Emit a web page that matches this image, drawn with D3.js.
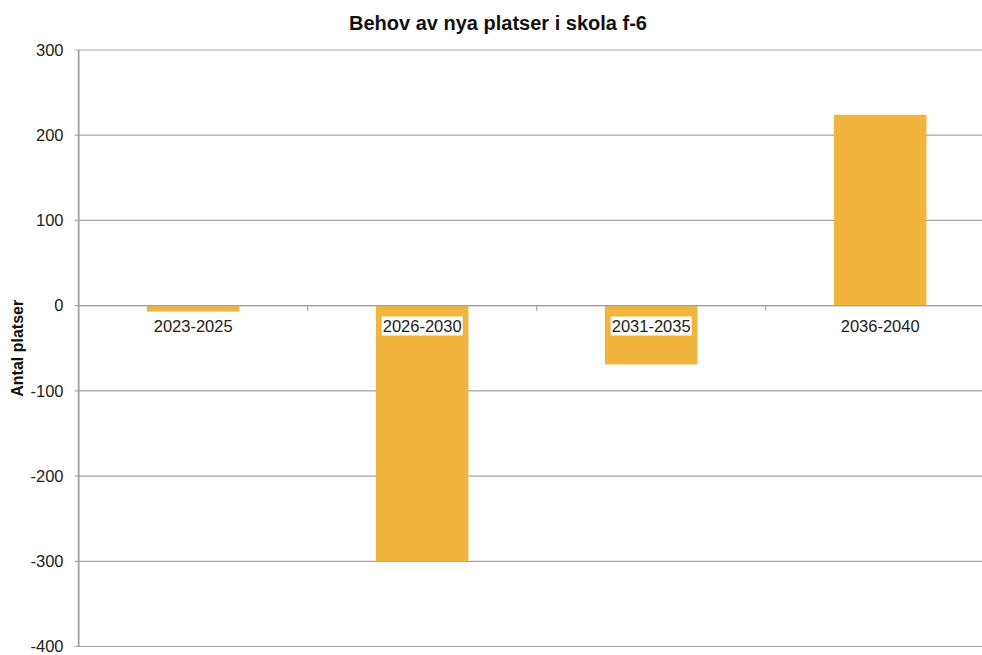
<!DOCTYPE html>
<html><head><meta charset="utf-8">
<script src="https://cdn.jsdelivr.net/npm/d3@7/dist/d3.min.js"></script>
<style>body{margin:0;background:#fff}svg{display:block}</style>
</head><body>
<svg id="c" width="982" height="655"></svg>
<script>
const categories = ["2023-2025","2026-2030","2031-2035","2036-2040"];
const values = [-7, -300, -69, 224];
const yTicks = [300,200,100,0,-100,-200,-300,-400];
const title = "Behov av nya platser i skola f-6";
const yTitle = "Antal platser";

(function() {
const svg = d3.select("#c");
const font = "Liberation Sans, Arial, sans-serif";
const pLeft = 78.7, pRight = 994.7, pTop = 50, pBottom = 646.5;

const x = d3.scaleBand().domain(categories).range([pLeft, pRight]).paddingInner(0.596).paddingOuter(0.298);
const y = d3.scaleLinear().domain([-400, 300]).range([pBottom, pTop]);

// gridlines
svg.append("g").selectAll("line").data(yTicks).join("line")
  .attr("x1", pLeft - 4).attr("x2", 982)
  .attr("y1", d => y(d)).attr("y2", d => y(d))
  .attr("stroke", "#a3a3a3").attr("stroke-width", 1.2);

// y tick labels
svg.append("g").selectAll("text").data(yTicks).join("text")
  .attr("x", 63.5).attr("y", d => y(d)).attr("dy", "0.35em")
  .attr("text-anchor", "end").attr("font-family", font).attr("font-size", 16.5)
  .attr("fill", "#222").text(d => d);

// bars
svg.append("g").selectAll("rect").data(categories).join("rect")
  .attr("x", d => x(d)).attr("width", x.bandwidth())
  .attr("y", (d, i) => Math.min(y(values[i]), y(0)))
  .attr("height", (d, i) => Math.abs(y(values[i]) - y(0)))
  .attr("fill", "#F1B43D");

// y axis line
svg.append("line").attr("x1", pLeft).attr("x2", pLeft).attr("y1", pTop).attr("y2", pBottom)
  .attr("stroke", "#a3a3a3").attr("stroke-width", 1.8);

// zero line with category boundary ticks
svg.append("line").attr("x1", pLeft).attr("x2", 982).attr("y1", y(0)).attr("y2", y(0))
  .attr("stroke", "#a3a3a3").attr("stroke-width", 1.2);
svg.append("g").selectAll("line").data(d3.range(1, categories.length)).join("line")
  .attr("x1", i => pLeft + i * (pRight - pLeft) / categories.length)
  .attr("x2", i => pLeft + i * (pRight - pLeft) / categories.length)
  .attr("y1", y(0)).attr("y2", y(0) + 5)
  .attr("stroke", "#a3a3a3").attr("stroke-width", 1.2);

// category labels with white background
const lg = svg.append("g").selectAll("g").data(categories).join("g")
  .attr("transform", d => `translate(${x(d) + x.bandwidth() / 2},332)`);
lg.append("text").attr("text-anchor", "middle").attr("font-family", font)
  .attr("font-size", 16.5).attr("fill", "#222").text(d => d);
lg.each(function() {
  const g = d3.select(this);
  const bb = g.select("text").node().getBBox();
  g.insert("rect", "text").attr("x", bb.x - 1).attr("y", -15.5)
    .attr("width", bb.width + 2).attr("height", 19).attr("fill", "#fff");
});

// title
svg.append("text").attr("x", 498).attr("y", 30).attr("text-anchor", "middle")
  .attr("font-family", font).attr("font-weight", "bold").attr("font-size", 20)
  .attr("fill", "#111").text(title);

// y axis title
svg.append("text").attr("transform", `translate(23,${(pTop + pBottom) / 2}) rotate(-90)`)
  .attr("text-anchor", "middle").attr("font-family", font).attr("font-weight", "bold")
  .attr("font-size", 16).attr("fill", "#111").text(yTitle);
})();
</script>
</body></html>
